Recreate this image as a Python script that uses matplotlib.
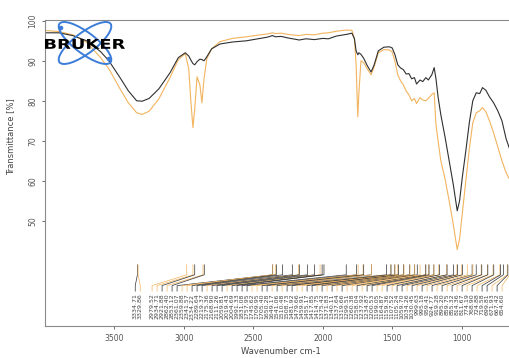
import matplotlib
matplotlib.use("Agg")
import matplotlib.pyplot as plt
from matplotlib.patches import Ellipse, Circle, PathPatch
from matplotlib.textpath import TextPath
from matplotlib.font_manager import FontProperties
from matplotlib.transforms import Affine2D

# spectrum sampled by eye, wavenumber in cm-1
wavenumber = [4000, 3900, 3800, 3700, 3600, 3540, 3460, 3400, 3340, 3300, 3250, 3180,
              3100, 3040, 2990, 2965, 2950, 2935, 2922, 2905, 2885, 2870, 2855, 2835,
              2800, 2740, 2650, 2550, 2450, 2400, 2362, 2340, 2300, 2250, 2200, 2170,
              2120, 2060, 2000, 1960, 1900, 1830, 1790, 1772, 1760, 1748, 1740, 1725,
              1705, 1680, 1652, 1630, 1600, 1560, 1520, 1500, 1480, 1460, 1440, 1420,
              1400, 1380, 1360, 1340, 1325, 1300, 1280, 1258, 1240, 1215, 1198, 1185,
              1170, 1150, 1120, 1090, 1060, 1032, 1015, 995, 970, 945, 920, 895,
              870, 850, 825, 800, 770, 740, 710, 680, 650]
trans_dark = [97.0, 97.0, 96.3, 95.0, 92.3, 90.0, 85.8, 82.5, 80.0, 79.9, 80.6, 83.0,
              87.0, 90.8, 92.0, 91.2, 90.2, 89.3, 89.0, 89.8, 90.4, 90.3, 90.0, 91.0,
              93.0, 94.2, 94.7, 95.0, 95.6, 95.9, 96.3, 96.0, 96.1, 95.7, 95.4, 95.2,
              95.5, 95.3, 95.6, 95.5, 96.2, 96.6, 96.9, 95.5, 92.5, 91.5, 92.0, 91.6,
              90.6, 88.8, 87.2, 89.0, 92.5, 93.4, 93.5, 93.2, 91.5, 89.0, 88.2, 87.8,
              86.7, 86.8, 85.5, 85.8, 84.2, 85.2, 84.8, 85.8, 85.2, 86.5, 88.3, 85.5,
              81.0, 76.5, 71.0, 65.0, 59.0, 52.5, 55.0, 61.0, 67.5, 74.5, 80.0, 82.0,
              81.8, 83.3, 82.6, 81.0, 79.5, 77.5, 75.0, 70.5, 67.5]
trans_orange = [97.6, 97.3, 96.5, 94.6, 90.8, 88.0, 83.0, 79.5, 77.0, 76.6, 77.4, 80.5,
                85.8, 90.3, 91.8, 88.0, 80.0, 73.3, 78.0, 86.0, 84.0, 79.5, 85.5, 90.5,
                93.0, 94.8, 95.6, 96.0, 96.5, 96.7, 97.0, 96.8, 96.9, 96.6, 96.4, 96.3,
                96.6, 96.5, 96.9, 97.0, 97.4, 97.7, 97.6, 95.5, 89.0, 76.0, 82.0, 90.0,
                89.5, 88.0, 86.5, 88.5, 92.0, 92.8, 92.7, 92.2, 89.8, 86.5, 85.0, 84.0,
                82.5, 81.5, 80.0, 80.6, 79.3, 80.8, 80.2, 80.0, 80.6, 81.6, 82.0, 74.0,
                70.0, 65.0, 60.5, 55.0, 49.0, 42.8, 45.5, 52.0, 60.0, 68.0, 74.5, 77.0,
                77.5, 78.3, 77.2, 75.0, 72.0, 68.5, 65.0, 62.0, 60.0]

peaks_dark = [3334.71, 2921.88, 2853.12, 2361.07, 2334.22, 2289.64, 2219.37, 2168.90,
              2111.26, 2059.81, 2004.69, 1991.33, 1831.08, 1757.95, 1705.40, 1650.28,
              1541.06, 1508.73, 1481.92, 1455.17, 1417.85, 1375.42, 1340.11, 1319.66,
              1258.04, 1234.87, 1200.53, 1159.36, 1105.24, 1059.70, 1030.45, 995.18,
              924.77, 895.20, 855.32, 811.67, 768.90, 719.58, 699.81, 667.42]
peaks_orange = [3329.86, 2979.52, 2934.71, 2862.40, 2359.88, 2341.57, 2175.36, 2019.43,
                1745.62, 1709.95, 1649.17, 1510.48, 1479.66, 1459.91, 1414.75, 1371.83,
                1337.64, 1299.51, 1260.38, 1237.92, 1199.05, 1164.87, 1107.52, 1034.26,
                999.63, 959.41, 919.28, 859.75, 814.36, 774.19, 724.88, 671.93, 654.60]

dark = "#303030"
orange = "#f2b45e"

fig = plt.figure(figsize=(5.1, 3.58), dpi=100)
ax = fig.add_axes([45/510, 32/358, 500/510, 306/358])

ax.plot(wavenumber, trans_orange, color=orange, lw=0.8)
ax.plot(wavenumber, trans_dark, color=dark, lw=0.8)

ax.set_xlim(4000, 400)
ax.set_ylim(23.7, 100.2)
ax.set_xticks([3500, 3000, 2500, 2000, 1500, 1000])
ax.set_yticks([50, 60, 70, 80, 90, 100])
ax.tick_params(labelsize=5.5, colors="#555555", length=2, width=0.6)
for t in ax.get_yticklabels():
    t.set_rotation(90)
    t.set_va("center")
for s in ax.spines.values():
    s.set_color("#8a8a8a")
    s.set_linewidth(0.8)
ax.set_xlabel("Wavenumber cm-1", fontsize=6, color="#444444")
ax.set_ylabel("Transmittance [%]", fontsize=6, color="#444444")
ax.xaxis.set_label_coords(0.472, -0.07)
ax.yaxis.set_label_coords(-0.06, 0.62)

# peak labels, spread so they do not overlap
gap = 36.0
lo, hi = 0.0, 3291.0


def start(s, n):
    return min(max(s / n - (n - 1) * gap / 2, lo), hi - (n - 1) * gap)


marks = sorted([(p, dark) for p in peaks_dark] + [(p, orange) for p in peaks_orange],
               key=lambda m: -m[0])
blocks = []
for p, c in marks:
    blocks.append([4000 - p, 1])
    while len(blocks) > 1:
        s1, n1 = blocks[-2]
        s2, n2 = blocks[-1]
        if start(s1, n1) + n1 * gap > start(s2, n2):
            blocks[-2:] = [[s1 + s2, n1 + n2]]
        else:
            break
lab_pos = []
for s, n in blocks:
    st = start(s, n)
    lab_pos += [4000 - (st + i * gap) for i in range(n)]

for (p, c), lx in zip(marks, lab_pos):
    ax.plot([p, p, lx, lx], [39.0, 36.5, 33.8, 32.4], color=c, lw=0.5)
    ax.text(lx, 31.8, f"{p:.2f}", rotation=90, va="top", ha="center",
            fontsize=4.5, color="#444444")

# Bruker logo
lg = fig.add_axes([45/510, 290/358, 80/510, 48/358])
lg.set_xlim(0, 80)
lg.set_ylim(0, 48)
lg.axis("off")
for ang in (37, -37):
    lg.add_patch(Ellipse((40, 25), 64, 21, angle=ang, fill=False,
                         edgecolor="#3b7dd8", lw=1.4))
lg.add_patch(Circle((16, 40), 1.6, color="#3b7dd8"))
lg.add_patch(Circle((64, 9), 1.6, color="#3b7dd8"))
tp = TextPath((0, 0), "BRUKER", size=10, prop=FontProperties(family="DejaVu Sans", weight="bold"))
bb = tp.get_extents()
tr = Affine2D().translate(-bb.x0, -bb.y0).scale(80 / bb.width, 10 / bb.height).translate(0, 19)
lg.add_patch(PathPatch(tr.transform_path(tp), color="black", lw=0))

fig.savefig("out.png", dpi=100)
